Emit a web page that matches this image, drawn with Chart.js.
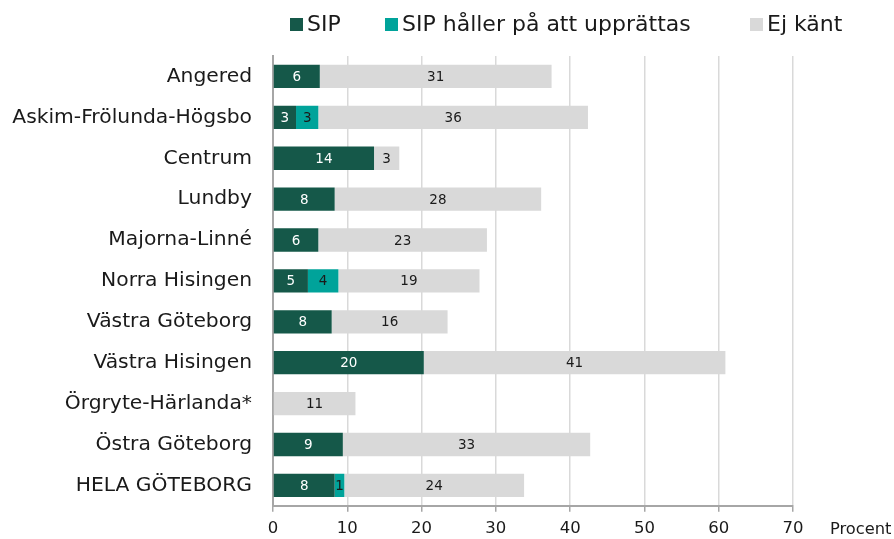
<!DOCTYPE html>
<html>
<head>
<meta charset="utf-8">
<script src="https://cdn.jsdelivr.net/npm/chart.js@4"></script>
<style>
    html, body { margin: 0; padding: 0; background: #fff; }
    #wrap { width: 894px; height: 539px; position: relative; }
</style>
</head>
<body>
<div id="wrap"><canvas id="sipChart"></canvas></div>
<script>
const categories = [
    'Angered', 'Askim-Frölunda-Högsbo', 'Centrum', 'Lundby', 'Majorna-Linné',
    'Norra Hisingen', 'Västra Göteborg', 'Västra Hisingen', 'Örgryte-Härlanda*',
    'Östra Göteborg', 'HELA GÖTEBORG'
];
const sip = [6.3, 3.1, 13.6, 8.3, 6.1, 4.7, 7.9, 20.3, 0, 9.4, 8.3];
const sipPagaende = [0, 3.0, 0, 0, 0, 4.1, 0, 0, 0, 0, 1.3];
const ejKant = [31.2, 36.3, 3.4, 27.8, 22.7, 19.0, 15.6, 40.6, 11.1, 33.3, 24.2];
const xTicks = [0, 10, 20, 30, 40, 50, 60, 70];
const seriesNames = ['SIP', 'SIP håller på att upprättas', 'Ej känt'];

const FONT = "'DejaVu Sans', sans-serif";
const colors = {
    sip: '#155849',
    pagaende: '#00a39a',
    ejKant: '#d9d9d9',
    text: '#1a1a1a',
    axis: '#a6a6a6',
    grid: '#d9d9d9'
};

// value labels centred in each segment
const barLabels = {
    id: 'barLabels',
    afterDatasetsDraw(chart) {
        const ctx = chart.ctx;
        ctx.save();
        ctx.font = `13.5px ${FONT}`;
        ctx.textAlign = 'center';
        ctx.textBaseline = 'middle';
        chart.data.datasets.forEach((ds, i) => {
            chart.getDatasetMeta(i).data.forEach((bar, j) => {
                const v = ds.data[j];
                if (!v) return;
                const mid = (bar.x + bar.base) / 2;
                ctx.fillStyle = i === 0 ? '#ffffff' : colors.text;
                ctx.fillText(Math.round(v), mid, bar.y + 1);
            });
        });
        ctx.restore();
    }
};

// legend row on top + axis unit text
const topLegend = {
    id: 'topLegend',
    afterDraw(chart) {
        const ctx = chart.ctx;
        const boxX = [290, 385, 750];
        ctx.save();
        ctx.font = `22px ${FONT}`;
        ctx.textBaseline = 'middle';
        ctx.textAlign = 'left';
        chart.data.datasets.forEach((ds, i) => {
            ctx.fillStyle = ds.backgroundColor;
            ctx.fillRect(boxX[i], 18, 13, 13);
            ctx.fillStyle = colors.text;
            ctx.fillText(ds.label, boxX[i] + 17, 25);
        });
        ctx.font = `16.3px ${FONT}`;
        ctx.fillText('Procent', 830, 530);
        ctx.restore();
    }
};

const ctx = document.getElementById('sipChart').getContext('2d');
new Chart(ctx, {
    type: 'bar',
    data: {
        labels: categories,
        datasets: [
            { label: seriesNames[0], data: sip, backgroundColor: colors.sip },
            { label: seriesNames[1], data: sipPagaende, backgroundColor: colors.pagaende },
            { label: seriesNames[2], data: ejKant, backgroundColor: colors.ejKant }
        ]
    },
    options: {
        indexAxis: 'y',
        responsive: true,
        maintainAspectRatio: false,
        animation: false,
        datasets: {
            bar: { categoryPercentage: 1, barPercentage: 0.57, borderWidth: 0 }
        },
        layout: { padding: { top: 56, right: 101, bottom: 0, left: 0 } },
        plugins: {
            legend: { display: false },
            tooltip: { enabled: false }
        },
        scales: {
            x: {
                stacked: true,
                min: 0,
                max: 70,
                afterBuildTicks: (scale) => {
                    scale.ticks = xTicks.map(v => ({ value: v }));
                },
                afterFit: (scale) => { scale.height = 33; },
                grid: {
                    color: colors.grid,
                    lineWidth: 1.5,
                    tickColor: colors.axis,
                    tickLength: 6
                },
                border: { color: colors.axis, width: 2 },
                ticks: {
                    color: colors.text,
                    padding: 7,
                    font: { family: FONT, size: 16.5 }
                }
            },
            y: {
                stacked: true,
                afterFit: (scale) => { scale.width = 273; },
                grid: { drawOnChartArea: false, drawTicks: false },
                border: { color: colors.axis, width: 2 },
                ticks: {
                    color: colors.text,
                    padding: 21,
                    font: { family: FONT, size: 20.3 }
                }
            }
        }
    },
    plugins: [barLabels, topLegend]
});
</script>
</body>
</html>
